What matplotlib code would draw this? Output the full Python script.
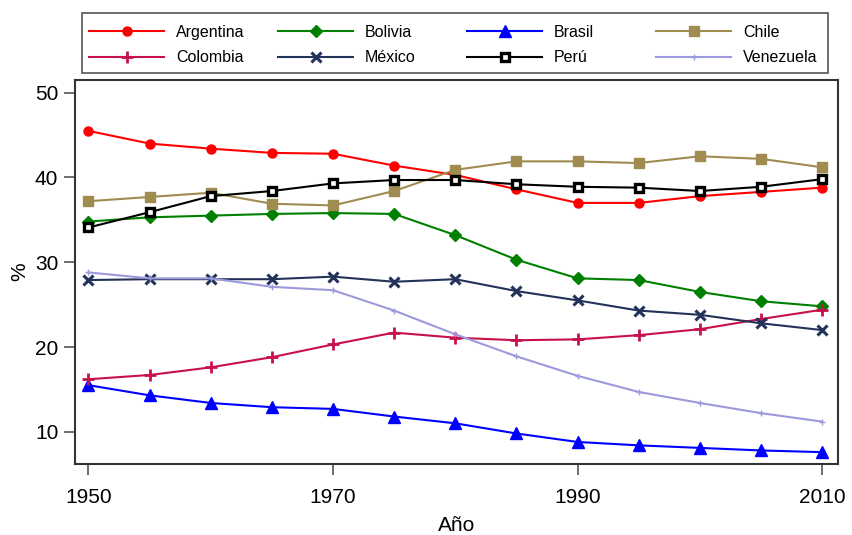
import matplotlib.pyplot as plt
from matplotlib.patches import Rectangle

plt.rcParams['font.family'] = ['Liberation Sans', 'DejaVu Sans']

years = [1950, 1955, 1960, 1965, 1970, 1975, 1980, 1985, 1990, 1995, 2000, 2005, 2010]

argentina = [45.5, 44.0, 43.4, 42.9, 42.8, 41.4, 40.3, 38.6, 37.0, 37.0, 37.8, 38.3, 38.8]
bolivia = [34.8, 35.3, 35.5, 35.7, 35.8, 35.7, 33.2, 30.3, 28.1, 27.9, 26.5, 25.4, 24.8]
brasil = [15.5, 14.3, 13.4, 12.9, 12.7, 11.8, 11.0, 9.8, 8.8, 8.4, 8.1, 7.8, 7.6]
chile = [37.2, 37.7, 38.2, 36.9, 36.7, 38.4, 40.9, 41.9, 41.9, 41.7, 42.5, 42.2, 41.2]
colombia = [16.2, 16.7, 17.6, 18.8, 20.3, 21.7, 21.1, 20.8, 20.9, 21.4, 22.1, 23.3, 24.4]
mexico = [27.9, 28.0, 28.0, 28.0, 28.3, 27.7, 28.0, 26.6, 25.5, 24.3, 23.8, 22.8, 22.0]
peru = [34.1, 35.9, 37.8, 38.4, 39.3, 39.7, 39.7, 39.2, 38.9, 38.8, 38.4, 38.9, 39.8]
venezuela = [28.8, 28.1, 28.1, 27.1, 26.7, 24.3, 21.5, 18.9, 16.6, 14.7, 13.4, 12.2, 11.2]

series = [
    ("Argentina", argentina, dict(color="#FF0000", marker="o", markersize=6.5)),
    ("Bolivia", bolivia, dict(color="#008000", marker="D", markersize=6.5)),
    ("Brasil", brasil, dict(color="#0000FF", marker="^", markersize=8)),
    ("Chile", chile, dict(color="#A08C50", marker="s", markersize=7)),
    ("Colombia", colombia, dict(color="#C8104A", marker="+", markersize=9, markeredgewidth=2)),
    ("México", mexico, dict(color="#223258", marker="x", markersize=6.5, markeredgewidth=2.2)),
    ("Perú", peru, dict(color="#000000", marker="s", markersize=5.5, markerfacecolor="white",
                        markeredgecolor="black", markeredgewidth=2.4)),
    ("Venezuela", venezuela, dict(color="#9C9ADC", marker="+", markersize=4, markeredgewidth=1)),
]

fig = plt.figure(figsize=(8.52, 5.35), dpi=100)
ax = fig.add_axes((0.088, 0.1327, 0.8956, 0.7178))

lines = []
for name, values, style in series:
    line, = ax.plot(years, values, label=name, linewidth=1.5, **style)
    lines.append(line)

ax.set_xlim(1948.9, 2011.3)
ax.set_ylim(6.2, 51.5)
ax.set_xticks([1950, 1970, 1990, 2010])
ax.set_yticks([10, 20, 30, 40, 50])
ax.tick_params(axis="both", direction="out", length=8, width=1.2, labelsize=15, color="#555555")
ax.tick_params(axis="x", pad=9)
ax.tick_params(axis="y", pad=4)
ax.set_xlabel("Año", fontsize=15, labelpad=7)
ax.set_ylabel("%", fontsize=15)
for spine in ax.spines.values():
    spine.set_linewidth(1.5)
    spine.set_color("#333333")

# legend: boxed, four fixed-width columns, filled row by row
W, H = 852, 535
fig.patches.append(Rectangle((82 / W, 1 - 73 / H), 746 / W, 60 / H, transform=fig.transFigure,
                             fill=False, edgecolor="#555555", linewidth=1.2))
for col in range(4):
    fig.legend(handles=[lines[col], lines[col + 4]], loc="upper left",
               bbox_to_anchor=((89 + 189 * col) / W, 1 - 25 / H), borderaxespad=0, borderpad=0,
               frameon=False, fontsize=11.5, handlelength=4.7, handletextpad=0.75,
               labelspacing=0.65)

fig.savefig("out.png", dpi=100)
